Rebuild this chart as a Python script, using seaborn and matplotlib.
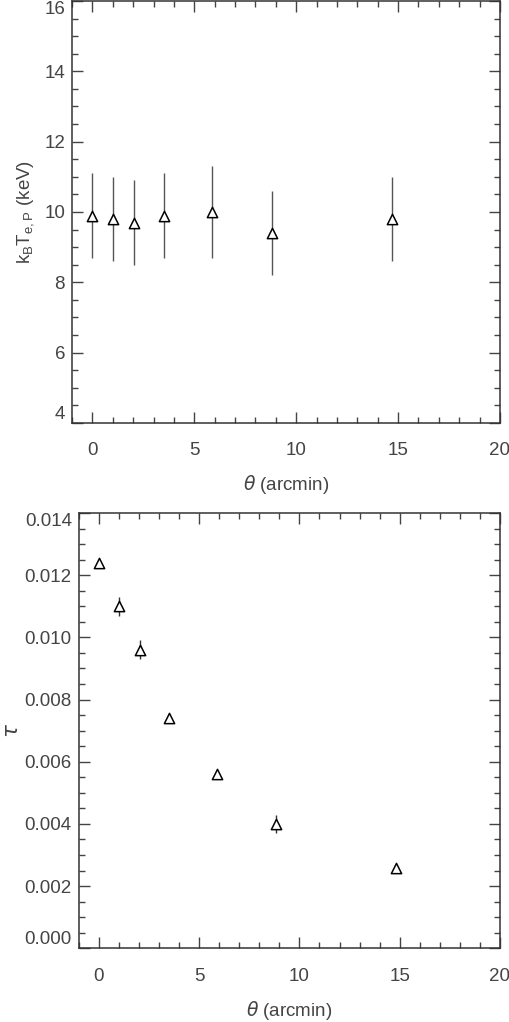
import numpy as np
import pandas as pd
import matplotlib
matplotlib.use("Agg")
import matplotlib.pyplot as plt
import seaborn as sns
from matplotlib.ticker import MultipleLocator, FormatStrFormatter

# ----- data -----
theta = [0.0, 1.03, 2.05, 3.53, 5.88, 8.8, 14.7]
kT = [9.9, 9.8, 9.7, 9.9, 10.0, 9.4, 9.8]
kT_err = [1.2, 1.2, 1.2, 1.2, 1.3, 1.2, 1.2]

theta_tau = [0.0, 1.02, 2.06, 3.5, 5.9, 8.85, 14.8]
tau = [0.0124, 0.0110, 0.0096, 0.0074, 0.0056, 0.0040, 0.00258]
tau_err = [0.0001, 0.0003, 0.0003, 0.0001, 0.0001, 0.0003, 0.0001]

sns.set_style("ticks")
plt.rcParams['font.family'] = ['Liberation Sans', 'DejaVu Sans']
plt.rcParams['mathtext.fontset'] = 'dejavusans'

INK = '#444444'
FS = 13.5

fig = plt.figure(figsize=(5.1, 10.22), dpi=100)
ax1 = fig.add_axes([72/510, 1 - 423/1022, 428/510, 422/1022])
ax2 = fig.add_axes([78.7/510, 1 - 948.3/1022, 421.3/510, 435.3/1022])


def style(ax, ymaj, ymin, fmt):
    ax.set_xlim(-1, 20)
    ax.xaxis.set_major_locator(MultipleLocator(5))
    ax.xaxis.set_minor_locator(MultipleLocator(1))
    ax.yaxis.set_major_locator(MultipleLocator(ymaj))
    ax.yaxis.set_minor_locator(MultipleLocator(ymin))
    ax.yaxis.set_major_formatter(FormatStrFormatter(fmt))
    for s in ax.spines.values():
        s.set_visible(True)
        s.set_color('#333333')
        s.set_linewidth(1.1)
    ax.tick_params(which='both', direction='in', top=True, right=True,
                   color='#444444', width=1.0, labelcolor=INK, labelsize=FS)
    ax.tick_params(which='major', length=8)
    ax.tick_params(which='minor', length=4)
    ax.tick_params(axis='x', which='major', pad=14)
    ax.tick_params(axis='y', which='major', pad=5)
    ax.set_xlabel(r'$\theta$ (arcmin)', fontsize=FS, color=INK, labelpad=10)


def edge_labels(ax):
    fig.canvas.draw()
    labs = ax.get_yticklabels()
    lo, hi = ax.get_ylim()
    for t, v in zip(labs, ax.get_yticks()):
        if abs(v - hi) < 1e-9:
            t.set_verticalalignment('top')
        elif abs(v - lo) < 1e-9:
            t.set_verticalalignment('bottom')


# ----- top panel -----
df1 = pd.DataFrame({'theta': theta, 'kT': kT, 'err': kT_err})
ax1.errorbar(df1['theta'], df1['kT'], yerr=df1['err'], fmt='none',
             ecolor='#555555', elinewidth=1.0, capsize=0, zorder=2)
sns.scatterplot(data=df1, x='theta', y='kT', ax=ax1, marker='^', s=55,
                facecolor='white', edgecolor='black', linewidth=1.1, zorder=3)
ax1.set_ylim(4, 16)
style(ax1, 2, 0.5, '%d')
ax1.set_ylabel(r'$\mathregular{k_B T_{e,P}}$ (keV)', fontsize=FS, color=INK)
ax1.yaxis.set_label_coords(-0.085, 0.5)
edge_labels(ax1)

# ----- bottom panel -----
df2 = pd.DataFrame({'theta': theta_tau, 'tau': tau, 'err': tau_err})
ax2.errorbar(df2['theta'], df2['tau'], yerr=df2['err'], fmt='none',
             ecolor='#333333', elinewidth=1.0, capsize=0, zorder=2)
sns.scatterplot(data=df2, x='theta', y='tau', ax=ax2, marker='^', s=55,
                facecolor='white', edgecolor='black', linewidth=1.1, zorder=3)
ax2.set_ylim(0, 0.014)
style(ax2, 0.002, 0.0005, '%.3f')
ax2.set_ylabel(r'$\tau$', fontsize=FS + 2, color=INK)
ax2.yaxis.set_label_coords(-0.132, 0.5)
edge_labels(ax2)

fig.savefig('out.png', dpi=100, facecolor='white')
